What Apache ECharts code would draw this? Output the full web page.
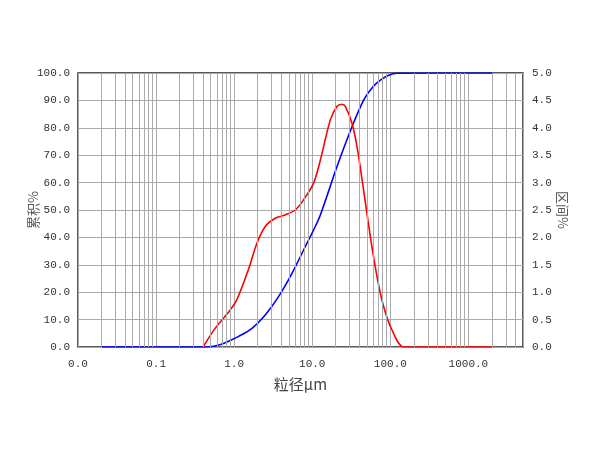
<!DOCTYPE html>
<html><head><meta charset="utf-8">
<script src="https://cdn.jsdelivr.net/npm/echarts@6/dist/echarts.min.js"></script>
<style>html,body{margin:0;padding:0;background:#fff}#c{width:600px;height:450px}</style>
</head><body><div id="c"></div>
<script>
// Particle diameter (μm) and values
const cumD = [0.02, 0.42, 0.55, 0.70, 0.89, 1.13, 1.69, 2.5, 3.7, 5.5, 8.1, 10.4, 12.7, 20.7, 32.3, 45.5, 60, 74.5, 95, 122, 2000];
const cumV = [0, 0, 0.3, 1.1, 2.4, 3.8, 6.8, 11.7, 18.4, 26.9, 36.5, 42.7, 48.2, 65.8, 80.4, 90.1, 95, 97.4, 99.2, 99.9, 100];
const freqD = [0.40, 0.57, 0.85, 1.08, 1.52, 1.95, 2.5, 3.36, 4.5, 6.05, 7.7, 10.4, 12.7, 17, 20.7, 24, 26.5, 32.3, 37.4, 45.5, 55.5, 67.6, 82, 105, 150, 2000];
const freqV = [0, 0.34, 0.64, 0.86, 1.41, 1.89, 2.2, 2.35, 2.41, 2.5, 2.68, 2.99, 3.41, 4.14, 4.39, 4.43, 4.39, 4.08, 3.66, 2.86, 2.01, 1.28, 0.74, 0.31, 0, 0];
const xMin = 0.01, xMax = 5000;
const leftTicks = {min: 0, max: 100, interval: 10};
const rightTicks = {min: 0, max: 5, interval: 0.5};
const minorGrid = [];
for (let e = -2; e <= 3; e++) for (let k = 2; k <= 9; k++) { const v = k * Math.pow(10, e); if (v < xMax) minorGrid.push(v); }

const lg = Math.log10;
const font = {fontFamily: 'Liberation Mono', fontSize: 11, color: '#333'};
const chart = echarts.init(document.getElementById('c'));
chart.setOption({
  animation: false,
  grid: {left: 78, right: 77, top: 73, bottom: 103, show: true, borderColor: '#222', borderWidth: 1.5, backgroundColor: 'transparent'},
  xAxis: {
    type: 'value', min: lg(xMin), max: lg(xMax), interval: 1,
    name: '粒径μm', nameLocation: 'middle', nameGap: 30, nameMoveOverlap: false,
    nameTextStyle: {fontFamily: 'Noto Sans CJK SC', fontSize: 15, color: '#444'},
    axisLine: {show: false}, axisTick: {show: false},
    axisLabel: Object.assign({margin: 12, showMaxLabel: false, formatter: v => Math.abs(v-Math.round(v))<1e-6 ? Math.pow(10, Math.round(v)).toFixed(1) : ''}, font),
    splitLine: {show: true, lineStyle: {color: '#aaa', width: 1}}
  },
  yAxis: [{
    type: 'value', min: leftTicks.min, max: leftTicks.max, interval: leftTicks.interval,
    name: '累积%', nameLocation: 'middle', nameGap: 38, nameRotate: 90, nameMoveOverlap: false,
    nameTextStyle: {fontFamily: 'Noto Sans CJK SC', fontSize: 13, color: '#555'},
    axisLine: {show: false}, axisTick: {show: false},
    axisLabel: Object.assign({margin: 8, formatter: v => v.toFixed(1)}, font),
    splitLine: {show: true, lineStyle: {color: '#aaa', width: 1}}
  }, {
    type: 'value', min: rightTicks.min, max: rightTicks.max, interval: rightTicks.interval,
    name: '区间%', nameLocation: 'middle', nameGap: 33, nameRotate: -90, nameMoveOverlap: false,
    nameTextStyle: {fontFamily: 'Noto Sans CJK SC', fontSize: 13, color: '#555'},
    axisLine: {show: false}, axisTick: {show: false},
    axisLabel: Object.assign({margin: 9, formatter: v => v.toFixed(1)}, font),
    splitLine: {show: false}
  }],
  series: [{
    type: 'line', yAxisIndex: 0, silent: true, symbol: 'none', data: [],
    markLine: {silent: true, symbol: 'none', label: {show: false},
      lineStyle: {color: '#aaa', width: 1, type: 'solid'},
      data: minorGrid.map(v => ({xAxis: lg(v)}))}
  }, {
    type: 'line', yAxisIndex: 0, symbol: 'none', smooth: 0.3,
    lineStyle: {color: '#0000ff', width: 1.6}, itemStyle: {color: '#0000ff'},
    data: cumD.map((d, i) => [lg(d), cumV[i]])
  }, {
    type: 'line', yAxisIndex: 1, symbol: 'none', smooth: 0.3,
    lineStyle: {color: '#ff0000', width: 1.6}, itemStyle: {color: '#ff0000'},
    data: freqD.map((d, i) => [lg(d), freqV[i]])
  }]
});
</script></body></html>
